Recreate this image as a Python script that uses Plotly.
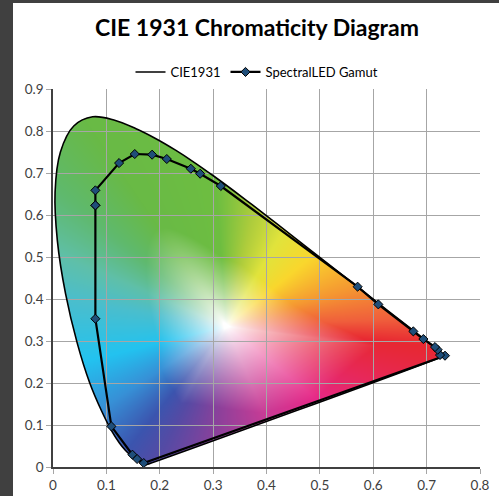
import numpy as np
import zlib, struct, base64
import plotly.graph_objects as go

# ---------------- data ----------------
# CIE 1931 2-degree spectral locus (380-700 nm, 5 nm steps), closed by the purple line
locus_x = [0.1741, 0.1740, 0.1738, 0.1736, 0.1733, 0.1730, 0.1726, 0.1721, 0.1714, 0.1703,
           0.1689, 0.1669, 0.1644, 0.1611, 0.1566, 0.1510, 0.1440, 0.1355, 0.1241, 0.1096,
           0.0913, 0.0687, 0.0454, 0.0235, 0.0082, 0.0039, 0.0139, 0.0389, 0.0743, 0.1142,
           0.1547, 0.1929, 0.2296, 0.2658, 0.3016, 0.3373, 0.3731, 0.4087, 0.4441, 0.4788,
           0.5125, 0.5448, 0.5752, 0.6029, 0.6270, 0.6482, 0.6658, 0.6801, 0.6915, 0.7006,
           0.7079, 0.7140, 0.7190, 0.7230, 0.7260, 0.7283, 0.7300, 0.7311, 0.7320, 0.7327,
           0.7334, 0.7340, 0.7344, 0.7346, 0.7347, 0.1741]
locus_y = [0.0050, 0.0050, 0.0049, 0.0049, 0.0048, 0.0048, 0.0048, 0.0048, 0.0051, 0.0058,
           0.0069, 0.0086, 0.0109, 0.0138, 0.0177, 0.0227, 0.0297, 0.0399, 0.0578, 0.0868,
           0.1327, 0.2007, 0.2950, 0.4127, 0.5384, 0.6548, 0.7502, 0.8120, 0.8338, 0.8262,
           0.8059, 0.7816, 0.7543, 0.7243, 0.6923, 0.6589, 0.6245, 0.5896, 0.5547, 0.5202,
           0.4866, 0.4544, 0.4242, 0.3965, 0.3725, 0.3514, 0.3340, 0.3197, 0.3083, 0.2993,
           0.2920, 0.2859, 0.2809, 0.2770, 0.2740, 0.2717, 0.2700, 0.2689, 0.2680, 0.2673,
           0.2666, 0.2660, 0.2656, 0.2654, 0.2653, 0.0050]

# SpectralLED gamut points
gamut_x = [0.0794, 0.0794, 0.1094, 0.1488, 0.1576, 0.1700, 0.7344, 0.7251, 0.7207, 0.7157,
           0.6939, 0.6751, 0.6095, 0.5707, 0.3144, 0.2757, 0.2582, 0.2132, 0.1857, 0.1532,
           0.1238, 0.0794, 0.0794]
gamut_y = [0.6230, 0.3530, 0.0967, 0.0293, 0.0190, 0.0094, 0.2650, 0.2666, 0.2793, 0.2856,
           0.3047, 0.3229, 0.3872, 0.4293, 0.6690, 0.6983, 0.7102, 0.7333, 0.7436, 0.7452,
           0.7237, 0.6587, 0.6230]

x_ticks = [0, 0.1, 0.2, 0.3, 0.4, 0.5, 0.6, 0.7, 0.8]
x_tick_labels = ["0", "0.1", "0.2", "0.3", "0.4", "0.5", "0.6", "0.7", "0.8"]
y_ticks = [0, 0.1, 0.2, 0.3, 0.4, 0.5, 0.6, 0.7, 0.8, 0.9]
y_tick_labels = ["0", "0.1", "0.2", "0.3", "0.4", "0.5", "0.6", "0.7", "0.8", "0.9"]

# colour fill: hue colours around the white point (angle in degrees, RGB, reach of the fade)
white_point = (0.325, 0.335)
hue_angles = [3.0, 20.3, 45.9, 65.0, 79.3, 93.3, 118.3, 134.5, 151.7, 167.8,
              197.5, 220.0, 237.7, 247.9, 265.8, 288.8, 314.2, 352.9]
hue_colors = [(240, 95, 60), (245, 150, 50), (250, 215, 45), (225, 228, 60), (175, 205, 60),
              (110, 190, 65), (105, 186, 70), (95, 185, 110), (95, 192, 170), (75, 190, 205),
              (35, 195, 240), (55, 145, 215), (60, 85, 175), (85, 75, 165), (140, 65, 155),
              (200, 60, 150), (230, 40, 135), (232, 40, 50)]
hue_reach = [0.55, 0.5, 0.5, 0.5, 0.5, 0.45, 0.45, 0.45, 0.45, 0.45,
             0.45, 0.5, 0.5, 0.55, 0.7, 0.9, 0.95, 0.65]

# ---------------- colour-fill picture ----------------
X_MAX, Y_MAX = 0.8, 0.9
W_PX, H_PX = 427 * 2, 378 * 2
gx = (np.arange(W_PX) + 0.5) / W_PX * X_MAX
gy = Y_MAX - (np.arange(H_PX) + 0.5) / H_PX * Y_MAX
PX, PY = np.meshgrid(gx, gy)

lx = np.array(locus_x)
ly = np.array(locus_y)


def smooth_outline(xv, yv, steps=12):
    # Catmull-Rom densified outline, only used for the mask of the colour fill
    ox, oy = [], []
    m = len(xv)
    for i in range(m - 1):
        p0 = (xv[max(i - 1, 0)], yv[max(i - 1, 0)])
        p1 = (xv[i], yv[i])
        p2 = (xv[i + 1], yv[i + 1])
        p3 = (xv[min(i + 2, m - 1)], yv[min(i + 2, m - 1)])
        for s in np.linspace(0, 1, steps, endpoint=False):
            s2, s3 = s * s, s * s * s
            ox.append(0.5 * (2 * p1[0] + (-p0[0] + p2[0]) * s + (2 * p0[0] - 5 * p1[0] + 4 * p2[0] - p3[0]) * s2
                             + (-p0[0] + 3 * p1[0] - 3 * p2[0] + p3[0]) * s3))
            oy.append(0.5 * (2 * p1[1] + (-p0[1] + p2[1]) * s + (2 * p0[1] - 5 * p1[1] + 4 * p2[1] - p3[1]) * s2
                             + (-p0[1] + 3 * p1[1] - 3 * p2[1] + p3[1]) * s3))
    ox.append(xv[-1])
    oy.append(yv[-1])
    return np.array(ox), np.array(oy)


mx, my = smooth_outline(lx[:-1], ly[:-1])
mx = np.append(mx, mx[0])
my = np.append(my, my[0])

inside = np.zeros(PX.shape, bool)
n = len(mx)
for i in range(n - 1):
    xi, yi, xj, yj = mx[i], my[i], mx[i + 1], my[i + 1]
    if yi == yj:
        continue
    cond = ((yi > PY) != (yj > PY)) & (PX < (xj - xi) * (PY - yi) / (yj - yi) + xi)
    inside ^= cond

wx, wy = white_point
ang_grid = np.linspace(0, 2 * np.pi, 1441)
r_edge = np.full(ang_grid.shape, np.inf)
dxr, dyr = np.cos(ang_grid), np.sin(ang_grid)
for i in range(n - 1):
    ax_, ay_ = mx[i] - wx, my[i] - wy
    bx_, by_ = mx[i + 1] - mx[i], my[i + 1] - my[i]
    den = dxr * (-by_) - dyr * (-bx_)
    with np.errstate(divide="ignore", invalid="ignore"):
        t = (ax_ * (-by_) - ay_ * (-bx_)) / den
        s = (dxr * ay_ - dyr * ax_) / den
    ok = (t > 0) & (s >= 0) & (s <= 1)
    r_edge = np.where(ok & (t < r_edge), t, r_edge)

DX, DY = PX - wx, PY - wy
ang = np.mod(np.arctan2(DY, DX), 2 * np.pi)
dist = np.hypot(DX, DY)
re = np.interp(ang, ang_grid, r_edge)
tt = np.clip(dist / re, 0, 1)

ha = np.array(hue_angles)
hc = np.array(hue_colors, float)
hr = np.array(hue_reach)
ha_ext = np.concatenate([ha - 360, ha, ha + 360])
hc_ext = np.concatenate([hc, hc, hc])
hr_ext = np.concatenate([hr, hr, hr])
angd = np.degrees(ang)
rgb = np.stack([np.interp(angd, ha_ext, hc_ext[:, k]) for k in range(3)], axis=-1)
reach = np.interp(angd, ha_ext, hr_ext)
f = np.clip((tt - 0.02) / reach, 0, 1) ** 0.8
col = 255 - (255 - rgb) * f[..., None]
alpha = np.where(inside, 255, 0)
rgba = np.concatenate([col, alpha[..., None]], axis=-1).clip(0, 255).astype(np.uint8)


def png_bytes(arr):
    h, w, _ = arr.shape
    raw = b"".join(b"\x00" + arr[r].tobytes() for r in range(h))

    def chunk(tag, data):
        c = struct.pack(">I", len(data)) + tag + data
        return c + struct.pack(">I", zlib.crc32(tag + data) & 0xFFFFFFFF)

    return (b"\x89PNG\r\n\x1a\n"
            + chunk(b"IHDR", struct.pack(">IIBBBBB", w, h, 8, 6, 0, 0, 0))
            + chunk(b"IDAT", zlib.compress(raw, 9))
            + chunk(b"IEND", b""))


img_uri = "data:image/png;base64," + base64.b64encode(png_bytes(rgba)).decode()

# ---------------- figure ----------------
fig = go.Figure()
fig.add_trace(go.Scatter(
    x=locus_x, y=locus_y, mode="lines", name="CIE1931",
    line=dict(color="#000000", width=1.6, shape="spline", smoothing=1.0), hoverinfo="skip"))
fig.add_trace(go.Scatter(
    x=gamut_x, y=gamut_y, mode="lines+markers", name="SpectralLED Gamut",
    line=dict(color="#000000", width=2.2),
    marker=dict(symbol="diamond", size=7, color="#1f4e79",
                line=dict(color="#000000", width=1))))

fig.add_layout_image(dict(
    source=img_uri, xref="x", yref="y", x=0, y=Y_MAX, sizex=X_MAX, sizey=Y_MAX,
    xanchor="left", yanchor="top", sizing="stretch", layer="below", opacity=1))

L, R, T, B = 53, 19, 89, 29
FW, FH = 499, 496
pw, ph = FW - L - R, FH - T - B
dark = "#404040"
# dark frame strips of the window (left and top)
fig.add_shape(type="rect", xref="paper", yref="paper",
              x0=-L / pw, x1=(13 - L) / pw, y0=-B / ph, y1=(FH - B) / ph,
              fillcolor=dark, line_width=0, layer="above")
fig.add_shape(type="rect", xref="paper", yref="paper",
              x0=-L / pw, x1=(FW - L) / pw, y0=(FH - B - 3) / ph, y1=(FH - B) / ph,
              fillcolor=dark, line_width=0, layer="above")

axis_common = dict(
    showgrid=True, gridcolor="#a6a6a6", gridwidth=1,
    zeroline=False, showline=True, linecolor="#404040", linewidth=1.5,
    ticks="outside", ticklen=5, tickcolor="#a6a6a6", tickwidth=1,
    tickfont=dict(family="Lato", size=13.5, color="#404040"),
    automargin=False,
)
fig.update_xaxes(range=[0, X_MAX], tickvals=x_ticks, ticktext=x_tick_labels, **axis_common)
fig.update_yaxes(range=[0, Y_MAX], tickvals=y_ticks, ticktext=y_tick_labels, **axis_common)

fig.update_layout(
    width=FW, height=FH,
    margin=dict(l=L, r=R, t=T, b=B, pad=0, autoexpand=False),
    paper_bgcolor="#ffffff", plot_bgcolor="rgba(0,0,0,0)",
    title=dict(text="<b>CIE 1931 Chromaticity Diagram</b>", xref="container", yref="container",
               x=257 / FW, y=1 - 28 / FH, xanchor="center", yanchor="middle",
               font=dict(family="Lato", size=23, color="#000000")),
    legend=dict(orientation="h", xref="container", yref="container",
                x=257 / FW, y=1 - 72 / FH, xanchor="center", yanchor="middle",
                font=dict(family="Lato", size=13, color="#000000"),
                bgcolor="rgba(0,0,0,0)", itemwidth=30),
    showlegend=True,
)

fig.write_html("out.html",
               config={"displayModeBar": False},
               post_script="document.body.style.margin='0';document.body.style.padding='0';"
                           "document.body.style.overflow='hidden';")
